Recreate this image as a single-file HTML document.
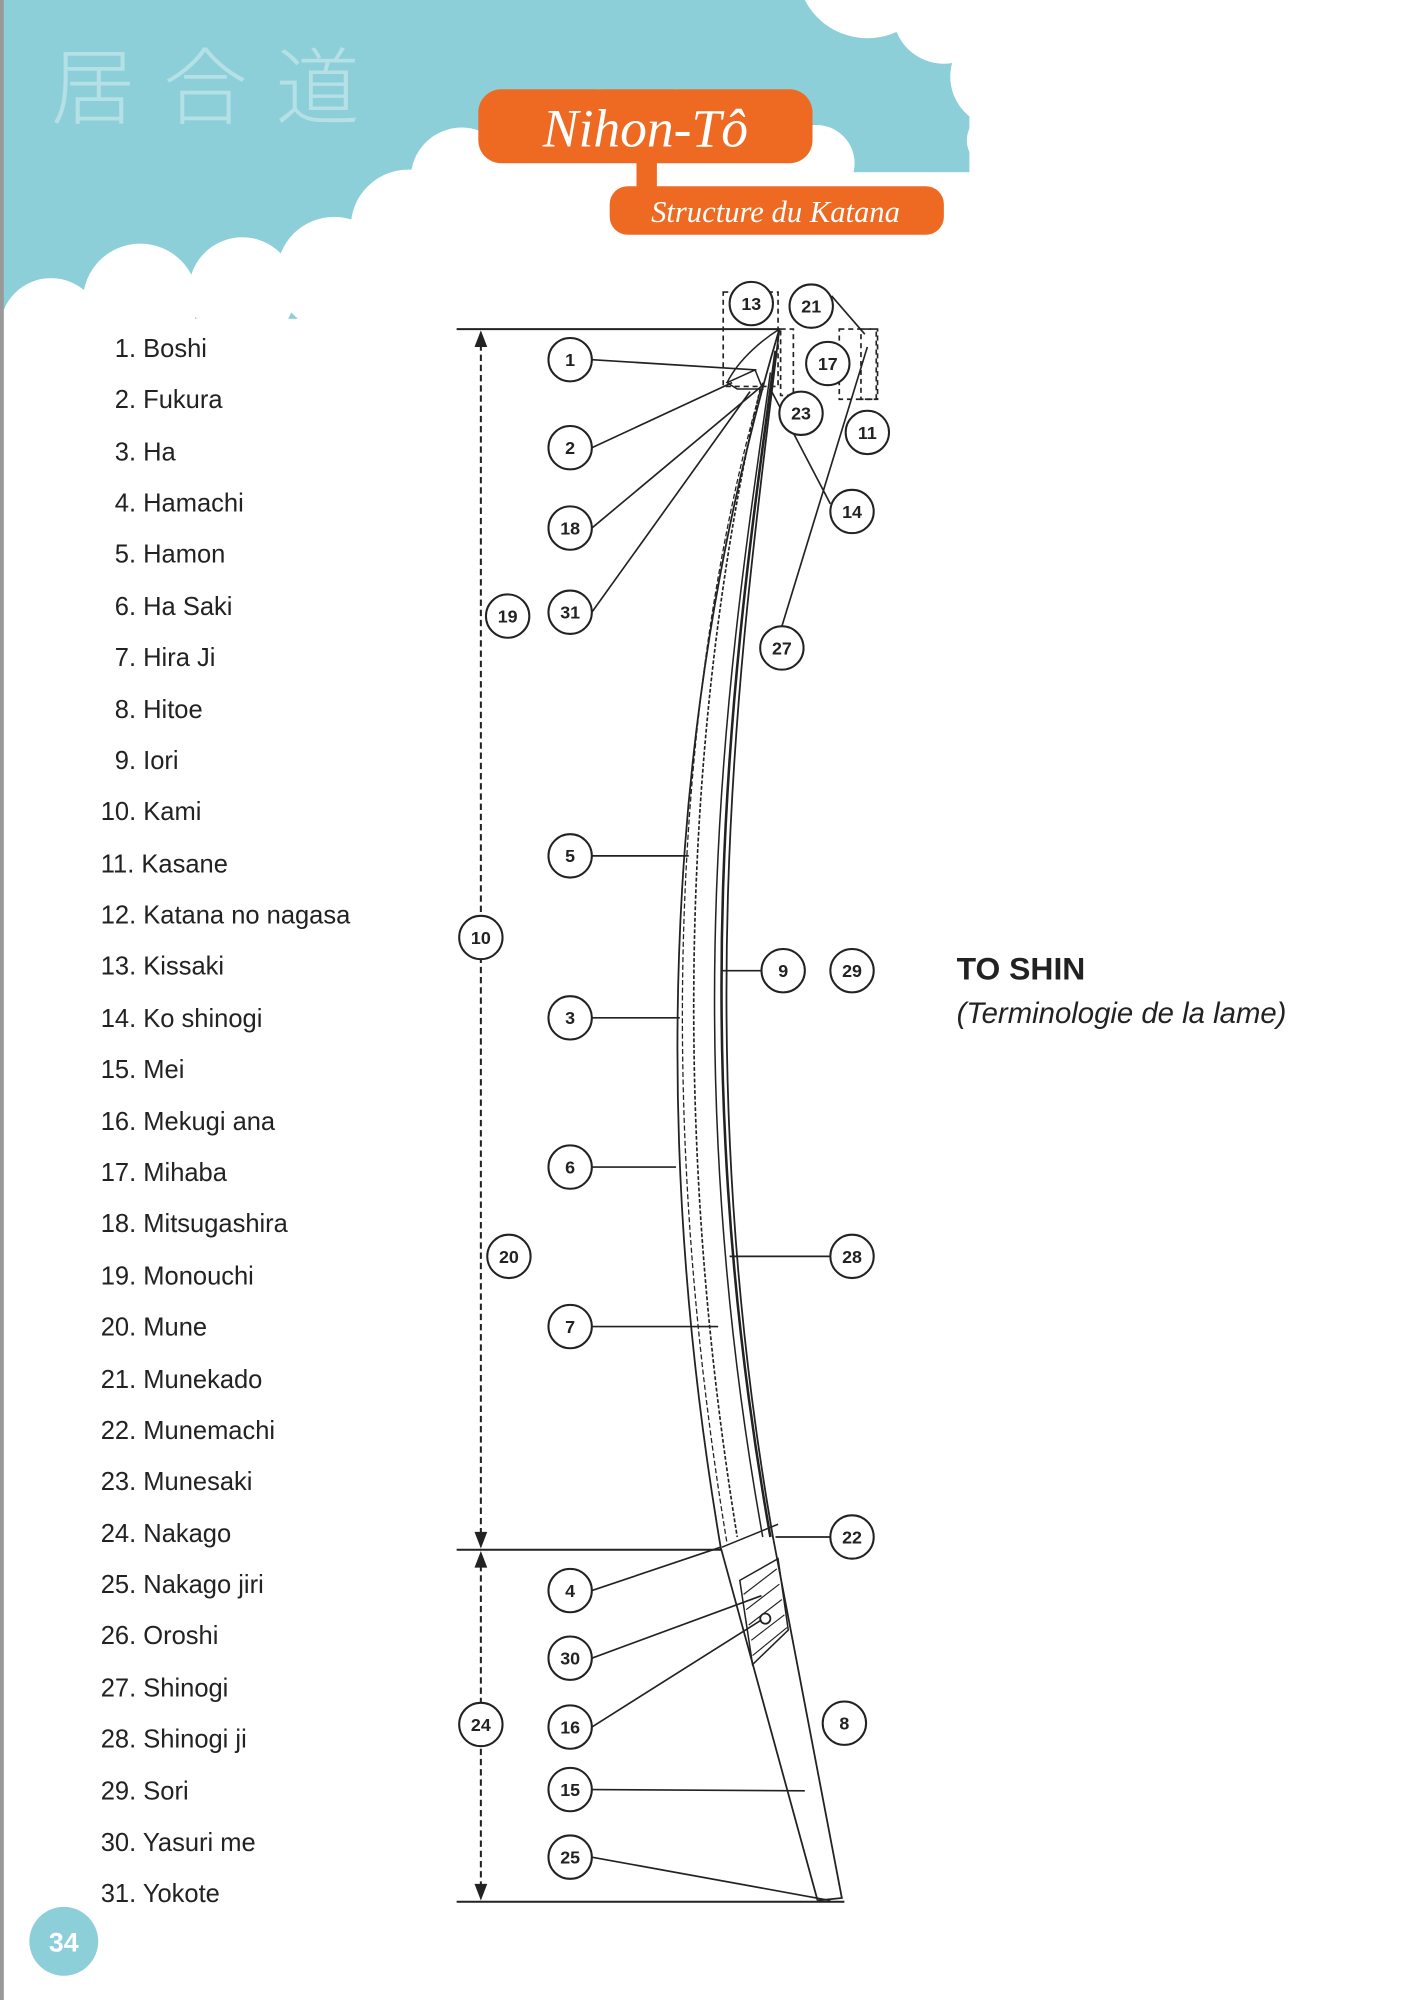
<!DOCTYPE html>
<html><head><meta charset="utf-8"><style>
html,body{margin:0;padding:0;background:#fff}
svg{display:block}
</style></head><body>
<svg width="1419" height="2000" viewBox="0 0 1112.5 1568" xmlns="http://www.w3.org/2000/svg">
<rect width="1112.5" height="1568" fill="#fff"/>
<!-- sky -->
<rect x="0" y="0" width="760" height="250" fill="#8ccfd9"/>
<g fill="#fff">
<circle cx="680" cy="-25" r="55"/><circle cx="740" cy="10" r="40"/><circle cx="785" cy="60" r="40"/><circle cx="780" cy="110" r="22"/>
<circle cx="40" cy="258" r="40"/><circle cx="110" cy="236" r="45"/><circle cx="190" cy="228" r="42"/>
<circle cx="262" cy="215" r="45"/><circle cx="305" cy="235" r="35"/><circle cx="320" cy="178" r="45"/><circle cx="362" cy="140" r="40"/>
<circle cx="412" cy="112" r="38"/><circle cx="470" cy="102" r="32"/><circle cx="530" cy="102" r="32"/>
<circle cx="590" cy="108" r="32"/><circle cx="640" cy="128" r="30"/><circle cx="700" cy="178" r="35"/>
<circle cx="750" cy="195" r="30"/>
<rect x="0" y="250" width="800" height="20"/><rect x="330" y="135" width="440" height="130"/>
<rect x="380" y="100" width="270" height="60"/>
<rect x="760" y="160" width="60" height="100"/>
</g>
<rect x="0" y="0" width="3" height="1568" fill="#999"/>
<text x="40" y="92" font-family="'Noto Sans CJK JP',sans-serif" font-size="66" font-weight="300" fill="#fff" fill-opacity="0.35" letter-spacing="22">居合道</text>
<!-- title pills -->
<rect x="375" y="70" width="262" height="58" rx="18" fill="#ee6a23"/>
<rect x="478" y="146" width="262" height="38" rx="14" fill="#ee6a23"/>
<rect x="499" y="120" width="16" height="34" fill="#ee6a23"/>
<text x="506" y="115" text-anchor="middle" font-family="'Liberation Serif',serif" font-style="italic" font-size="42" fill="#fff">Nihon-Tô</text>
<text x="608" y="174" text-anchor="middle" font-family="'Liberation Serif',serif" font-style="italic" font-size="24" fill="#fff">Structure du Katana</text>
<!-- list -->
<g font-family="'Liberation Sans',sans-serif" font-size="20" fill="#222">
<text x="90" y="280">1. Boshi</text><text x="90" y="320">2. Fukura</text><text x="90" y="361">3. Ha</text>
<text x="90" y="401">4. Hamachi</text><text x="90" y="441">5. Hamon</text><text x="90" y="482">6. Ha Saki</text>
<text x="90" y="522">7. Hira Ji</text><text x="90" y="563">8. Hitoe</text><text x="90" y="603">9. Iori</text>
<text x="79" y="643">10. Kami</text><text x="79" y="684">11. Kasane</text><text x="79" y="724">12. Katana no nagasa</text>
<text x="79" y="764">13. Kissaki</text><text x="79" y="805">14. Ko shinogi</text><text x="79" y="845">15. Mei</text>
<text x="79" y="886">16. Mekugi ana</text><text x="79" y="926">17. Mihaba</text><text x="79" y="966">18. Mitsugashira</text>
<text x="79" y="1007">19. Monouchi</text><text x="79" y="1047">20. Mune</text><text x="79" y="1088">21. Munekado</text>
<text x="79" y="1128">22. Munemachi</text><text x="79" y="1168">23. Munesaki</text><text x="79" y="1209">24. Nakago</text>
<text x="79" y="1249">25. Nakago jiri</text><text x="79" y="1289">26. Oroshi</text><text x="79" y="1330">27. Shinogi</text>
<text x="79" y="1370">28. Shinogi ji</text><text x="79" y="1411">29. Sori</text><text x="79" y="1451">30. Yasuri me</text>
<text x="79" y="1491">31. Yokote</text>
</g>
<circle cx="50" cy="1522" r="27" fill="#8ccfd9"/>
<text x="50" y="1530" text-anchor="middle" font-family="'Liberation Sans',sans-serif" font-weight="bold" font-size="21" fill="#fff">34</text>
<text x="750" y="768" font-family="'Liberation Sans',sans-serif" font-weight="bold" font-size="25" fill="#222">TO SHIN</text>
<text x="750" y="802" font-family="'Liberation Sans',sans-serif" font-style="italic" font-size="23" fill="#222">(Terminologie de la lame)</text>
<!-- dimension lines -->
<g stroke="#222" stroke-width="1.6" fill="none">
<line x1="358" y1="258" x2="612" y2="258"/><line x1="358" y1="1215" x2="566" y2="1215"/><line x1="358" y1="1491" x2="662" y2="1491"/>
<line x1="377" y1="270" x2="377" y2="1203" stroke-dasharray="5 3"/>
<line x1="377" y1="1227" x2="377" y2="1479" stroke-dasharray="5 3"/>
</g>
<g fill="#222">
<polygon points="377,259 372,272 382,272"/><polygon points="377,1214 372,1201 382,1201"/>
<polygon points="377,1216 372,1229 382,1229"/><polygon points="377,1490 372,1477 382,1477"/>
</g>
<!-- blade -->
<g stroke="#222" fill="none" stroke-width="1.4">
<path d="M611,258 C 545,480 495,800 565,1213 L 641,1490"/>
<path d="M611,258 C 585,480 535,800 606,1205 L 660,1488 L 641,1490"/>
<path d="M604,292 C 575,500 525,800 598,1205" stroke-width="1.2"/>
<path d="M608,275 C 578,500 532,800 604,1205" stroke-width="2"/>
<path d="M598,300 C 545,480 502,800 570,1210" stroke-width="1" stroke-dasharray="4 2"/>
<path d="M596,305 C 555,480 512,800 578,1205" stroke-width="1.3" stroke-dasharray="3 1.5"/>
<path d="M566,1213 L 610,1195" stroke-width="1.2"/>
<path d="M570,300 L 592,290 L 598,305 L 578,305 Z" stroke-width="1.2"/>
<path d="M570,300 C 580,280 600,265 611,258" stroke-width="1.2"/>
<path d="M580,1239 L 610,1222 L 618,1278 L 590,1305 Z" stroke-width="1.2"/>
<path d="M583,1250 L 609,1230 M585,1262 L 611,1242 M587,1274 L 613,1254 M589,1286 L 615,1266 M590,1298 L 617,1276" stroke-width="0.9"/>
</g>
<circle cx="600" cy="1269" r="4" fill="#fff" stroke="#222" stroke-width="1.4"/>
<!-- dashed boxes -->
<g stroke="#222" fill="none" stroke-width="1.3" stroke-dasharray="4 3">
<rect x="567" y="229" width="43" height="74"/>
<rect x="612" y="258" width="10" height="52"/>
<rect x="658" y="258" width="30" height="55"/>
<rect x="675" y="258" width="12" height="55"/>
</g>
<!-- leaders -->
<g stroke="#222" stroke-width="1.3" fill="none">
<line x1="464" y1="282" x2="593" y2="290"/>
<line x1="464" y1="351" x2="574" y2="300"/>
<line x1="464" y1="414" x2="598" y2="302"/>
<line x1="464" y1="480" x2="588" y2="307"/>
<line x1="651" y1="395" x2="604" y2="305"/>
<line x1="613" y1="491" x2="680" y2="272"/>
<line x1="652" y1="232" x2="678" y2="262"/>
<line x1="464" y1="671" x2="540" y2="671"/>
<line x1="597" y1="761" x2="565" y2="761"/>
<line x1="464" y1="798" x2="533" y2="798"/>
<line x1="464" y1="915" x2="530" y2="915"/>
<line x1="651" y1="985" x2="572" y2="985"/>
<line x1="464" y1="1040" x2="563" y2="1040"/>
<line x1="651" y1="1205" x2="608" y2="1205"/>
<line x1="464" y1="1247" x2="565" y2="1213"/>
<line x1="464" y1="1300" x2="597" y2="1251"/>
<line x1="464" y1="1354" x2="597" y2="1270"/>
<line x1="464" y1="1403" x2="631" y2="1404"/>
<line x1="464" y1="1456" x2="651" y2="1490"/>
</g>
<!-- circles -->
<g fill="#fff" stroke="#222" stroke-width="1.6">
<circle cx="589" cy="238" r="17"/><circle cx="636" cy="240" r="17"/><circle cx="649" cy="285" r="17"/>
<circle cx="628" cy="324" r="17"/><circle cx="680" cy="339" r="17"/><circle cx="668" cy="401" r="17"/>
<circle cx="447" cy="282" r="17"/><circle cx="447" cy="351" r="17"/><circle cx="447" cy="414" r="17"/>
<circle cx="447" cy="480" r="17"/><circle cx="398" cy="483" r="17"/><circle cx="613" cy="508" r="17"/>
<circle cx="447" cy="671" r="17"/><circle cx="377" cy="735" r="17"/><circle cx="614" cy="761" r="17"/>
<circle cx="668" cy="761" r="17"/><circle cx="447" cy="798" r="17"/><circle cx="447" cy="915" r="17"/>
<circle cx="668" cy="985" r="17"/><circle cx="399" cy="985" r="17"/><circle cx="447" cy="1040" r="17"/>
<circle cx="668" cy="1205" r="17"/><circle cx="447" cy="1247" r="17"/><circle cx="447" cy="1300" r="17"/>
<circle cx="377" cy="1352" r="17"/><circle cx="447" cy="1354" r="17"/><circle cx="662" cy="1351" r="17"/>
<circle cx="447" cy="1403" r="17"/><circle cx="447" cy="1456" r="17"/>
</g>
<g font-family="'Liberation Sans',sans-serif" font-weight="bold" font-size="14" fill="#222" text-anchor="middle">
<text x="589" y="243">13</text><text x="636" y="245">21</text><text x="649" y="290">17</text>
<text x="628" y="329">23</text><text x="680" y="344">11</text><text x="668" y="406">14</text>
<text x="447" y="287">1</text><text x="447" y="356">2</text><text x="447" y="419">18</text>
<text x="447" y="485">31</text><text x="398" y="488">19</text><text x="613" y="513">27</text>
<text x="447" y="676">5</text><text x="377" y="740">10</text><text x="614" y="766">9</text>
<text x="668" y="766">29</text><text x="447" y="803">3</text><text x="447" y="920">6</text>
<text x="668" y="990">28</text><text x="399" y="990">20</text><text x="447" y="1045">7</text>
<text x="668" y="1210">22</text><text x="447" y="1252">4</text><text x="447" y="1305">30</text>
<text x="377" y="1357">24</text><text x="447" y="1359">16</text><text x="662" y="1356">8</text>
<text x="447" y="1408">15</text><text x="447" y="1461">25</text>
</g>
</svg>
</body></html>
